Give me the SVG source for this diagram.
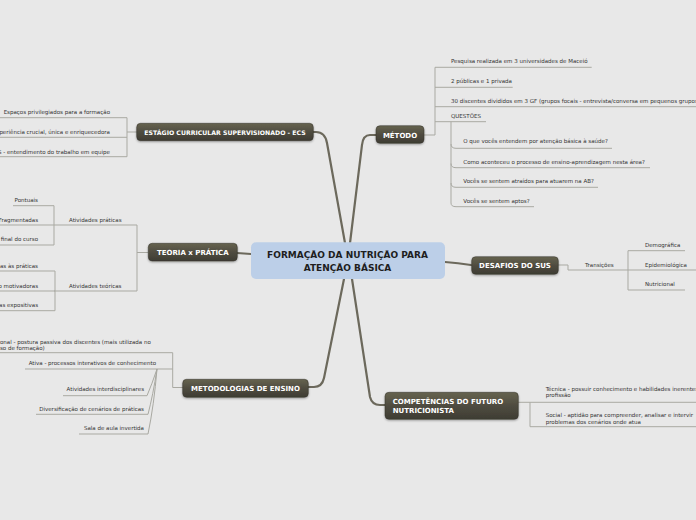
<svg xmlns="http://www.w3.org/2000/svg" width="696" height="520" viewBox="0 0 696 520">
<defs>
<linearGradient id="dg" x1="0" y1="0" x2="0" y2="1">
<stop offset="0" stop-color="#66634f"/>
<stop offset="0.5" stop-color="#4f4c40"/>
<stop offset="1" stop-color="#3e3c33"/>
</linearGradient>
<filter id="sh" x="-10%" y="-30%" width="120%" height="160%">
<feDropShadow dx="0" dy="1" stdDeviation="0.8" flood-color="#000" flood-opacity="0.35"/>
</filter>
</defs>
<style>
.dn{fill:url(#dg);stroke:#35332b;stroke-width:0.5;filter:url(#sh)}
.dt{fill:#ffffff;font-family:"DejaVu Sans",Verdana,sans-serif;font-weight:bold;font-size:7px}
.st{fill:#333333;font-family:"DejaVu Sans",Verdana,sans-serif;font-size:5.5px}
.mc{fill:none;stroke:#6c695c;stroke-width:2.2;stroke-linecap:round}
.cl{fill:none;stroke:#a9a9a2;stroke-width:1}
.ct{fill:#1e1e1e;font-family:"DejaVu Sans",Verdana,sans-serif;font-weight:bold;font-size:9px}
</style>
<rect x="0" y="0" width="696" height="520" fill="#e8e8e8"/>

<g id="connectors">
<path class="mc" d="M345,243 L327,143 Q325,132 316,132 L313,132"/>
<path class="mc" d="M350,243 L362,145 Q363,135 370,135 L376,135"/>
<path class="mc" d="M237,253 L251,254"/>
<path class="mc" d="M445,262 Q458,263 471,265"/>
<path class="mc" d="M344,279 L324,378 Q322,387 314,387 L308,387"/>
<path class="mc" d="M352,279 L370,397 Q372,405 380,405 L385,405"/>

<!-- ESTAGIO -->
<path class="cl" d="M137,132 L127,132 M127,117.7 L127,156.7 M0,117.7 L127,117.7 M0,137.3 L127,137.3 M0,156.7 L127,156.7"/>
<!-- TEORIA -->
<path class="cl" d="M148,252.5 L137,252.5 M137,225 L137,291 M54,225 L137,225 M54,291 L137,291"/>
<path class="cl" d="M54,205.7 L54,245 M13,205.7 L54,205.7 M0,225 L54,225 M0,245 L54,245"/>
<path class="cl" d="M55,271 L55,310.7 M0,271 L55,271 M0,291 L55,291 M0,310.7 L55,310.7"/>
<!-- METODOLOGIAS -->
<path class="cl" d="M183,387.5 L172.7,387.5 M172.7,352.7 L172.7,387.5 M0,352.7 L172.7,352.7 M25,369 L172.7,369"/>
<path class="cl" d="M63,395.7 L147,395.7 Q152,384 157,369 M36,414.3 L148,414.3 Q153,395 157,369 M79,434 L148,434 Q154,405 157,369"/>
<!-- METODO -->
<path class="cl" d="M424,135 L435,135 M435,67.3 L435,135 M435,67.3 L591.7,67.3 M435,87.3 L512.7,87.3 M435,106.7 L696,106.7 M435,121.7 L486,121.7"/>
<path class="cl" d="M451,121.7 L451,203 Q451,206.7 456,206.7 L534,206.7 M451,144 Q451,148.3 456,148.3 L612,148.3 M451,163.5 Q451,167.7 456,167.7 L650,167.7 M451,183 Q451,187.3 456,187.3 L598,187.3"/>
<!-- DESAFIOS -->
<path class="cl" d="M558,265 L568,265 L568,270 L628,270 M628,250.7 L628,290 M628,250.7 L685,250.7 M628,270 L696,270 M628,290 L685,290"/>
<!-- COMPETENCIAS -->
<path class="cl" d="M518,402.3 L696,402.3 M530,402.3 L530,426.7 L696,426.7"/>
</g>

<g id="center">
<rect x="251" y="242.3" width="194" height="36.7" rx="5" fill="#bccfe8"/>
<text class="ct" x="347.5" y="258.3" text-anchor="middle">FORMAÇÃO DA NUTRIÇÃO PARA</text>
<text class="ct" x="347.5" y="270.6" text-anchor="middle">ATENÇÃO BÁSICA</text>
</g>

<g id="n-estagio">
<rect class="dn" x="136.7" y="123.3" width="176.6" height="17.4" rx="4"/>
<text class="dt" x="225" y="134.6" text-anchor="middle" style="font-size:6.2px">ESTÁGIO CURRICULAR SUPERVISIONADO - ECS</text>
</g>
<g id="n-estagio-c1"><text class="st" x="110" y="114.3" text-anchor="end">Espaços privilegiados para a formação</text></g>
<g id="n-estagio-c2"><text class="st" x="110" y="134.3" text-anchor="end">periência crucial, única e enriquecedora</text></g>
<g id="n-estagio-c3"><text class="st" x="110" y="153.7" text-anchor="end">S - entendimento do trabalho em equipe</text></g>

<g id="n-metodo">
<rect class="dn" x="376" y="125.7" width="48" height="17.6" rx="4"/>
<text class="dt" x="400" y="137.6" text-anchor="middle">MÉTODO</text>
</g>
<g id="n-metodo-c1"><text class="st" x="451" y="63">Pesquisa realizada em 3 universidades de Maceió</text></g>
<g id="n-metodo-c2"><text class="st" x="451" y="83">2 públicas e 1 privada</text></g>
<g id="n-metodo-c3"><text class="st" x="451" y="102.7">30 discentes divididos em 3 GF (grupos focais - entrevista/conversa em pequenos grupos</text></g>
<g id="n-questoes"><text class="st" x="451" y="117.7">QUESTÕES</text></g>
<g id="n-q1"><text class="st" x="463.3" y="143.3">O que vocês entendem por atenção básica à saúde?</text></g>
<g id="n-q2"><text class="st" x="463.3" y="163.7">Como aconteceu o processo de ensino-aprendizagem nesta área?</text></g>
<g id="n-q3"><text class="st" x="463.3" y="182.7">Vocês se sentem atraídos para atuarem na AB?</text></g>
<g id="n-q4"><text class="st" x="463.3" y="202.7">Vocês se sentem aptos?</text></g>

<g id="n-teoria">
<rect class="dn" x="148.3" y="243.3" width="89" height="17.7" rx="4"/>
<text class="dt" x="192.8" y="254.8" text-anchor="middle">TEORIA x PRÁTICA</text>
</g>
<g id="n-ativ-praticas"><text class="st" x="69" y="222">Atividades práticas</text></g>
<g id="n-pontuais"><text class="st" x="38" y="202" text-anchor="end">Pontuais</text></g>
<g id="n-fragmentadas"><text class="st" x="38" y="222" text-anchor="end">Fragmentadas</text></g>
<g id="n-final"><text class="st" x="38" y="241.3" text-anchor="end">final do curso</text></g>
<g id="n-ativ-teoricas"><text class="st" x="69" y="288">Atividades teóricas</text></g>
<g id="n-t1"><text class="st" x="38" y="268" text-anchor="end">as às práticas</text></g>
<g id="n-t2"><text class="st" x="38" y="288" text-anchor="end">o motivadoras</text></g>
<g id="n-t3"><text class="st" x="38" y="307" text-anchor="end">as expositivas</text></g>

<g id="n-desafios">
<rect class="dn" x="471.7" y="256.7" width="86.6" height="17.6" rx="4"/>
<text class="dt" x="515" y="268" text-anchor="middle">DESAFIOS DO SUS</text>
</g>
<g id="n-transicoes"><text class="st" x="585" y="267">Transições</text></g>
<g id="n-demografica"><text class="st" x="645" y="247">Demográfica</text></g>
<g id="n-epidemiologica"><text class="st" x="645" y="267">Epidemiológica</text></g>
<g id="n-nutricional"><text class="st" x="645" y="286">Nutricional</text></g>

<g id="n-metodologias">
<rect class="dn" x="182.7" y="379.3" width="125.6" height="18" rx="4"/>
<text class="dt" x="245.5" y="390.9" text-anchor="middle">METODOLOGIAS DE ENSINO</text>
</g>
<g id="n-tradicional">
<text class="st" x="0" y="343.5">onal - postura passiva dos discentes (mais utilizada no</text>
<text class="st" x="0" y="349.6">so de formação)</text>
</g>
<g id="n-ativa"><text class="st" x="156" y="365.3" text-anchor="end">Ativa - processos interativos de conhecimento</text></g>
<g id="n-interdisc"><text class="st" x="144" y="391.3" text-anchor="end">Atividades interdisciplinares</text></g>
<g id="n-diversif"><text class="st" x="144" y="411.3" text-anchor="end">Diversificação de cenários de práticas</text></g>
<g id="n-sala"><text class="st" x="144" y="430.3" text-anchor="end">Sala de aula invertida</text></g>

<g id="n-competencias">
<rect class="dn" x="385" y="392.3" width="133.3" height="27" rx="4"/>
<text class="dt" x="392.7" y="404.3">COMPETÊNCIAS DO FUTURO</text>
<text class="dt" x="392.7" y="413.4">NUTRICIONISTA</text>
</g>
<g id="n-tecnica">
<text class="st" x="545.7" y="391.3">Técnica - possuir conhecimento e habilidades inerentes</text>
<text class="st" x="545.7" y="397.2">profissão</text>
</g>
<g id="n-social">
<text class="st" x="545.7" y="417">Social - aptidão para compreender, analisar e intervir</text>
<text class="st" x="545.7" y="424.2">problemas dos cenários onde atua</text>
</g>
</svg>
